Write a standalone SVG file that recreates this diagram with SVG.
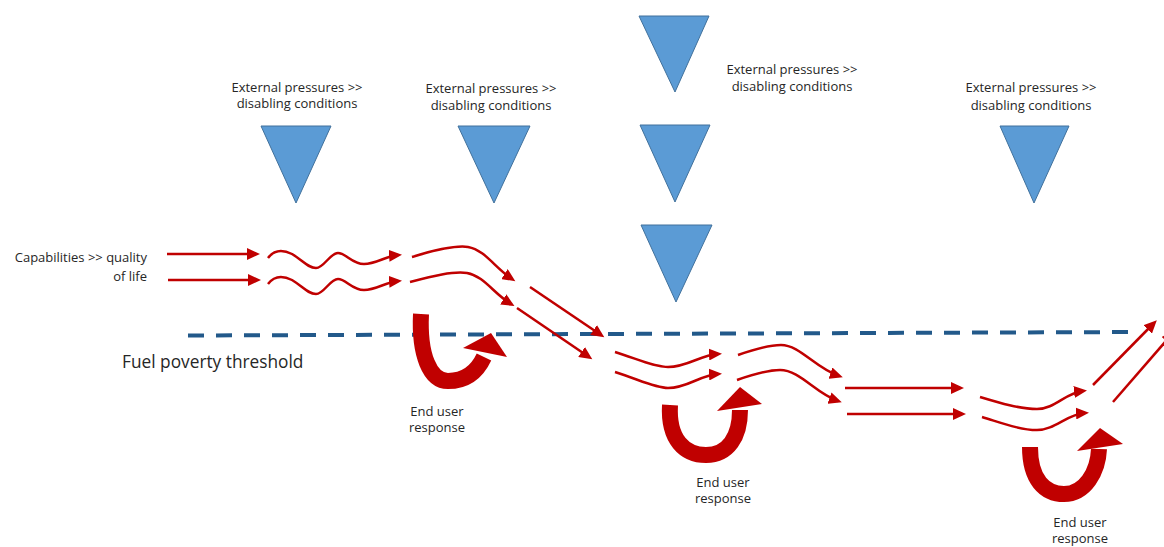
<svg xmlns="http://www.w3.org/2000/svg" width="1164" height="547" viewBox="0 0 1164 547">
<style>
.lbl{font-family:"Open Sans","Liberation Sans",sans-serif;fill:#262626;text-anchor:middle;font-size:13px}
.tri{fill:#5B9BD5;stroke:#41719C;stroke-width:1}
.flow{fill:none;stroke:#C00000;stroke-width:2.5;marker-end:url(#ah)}
.uturn{fill:none;stroke:#C00000;stroke-width:16}
.uhead{fill:#C00000}
</style>
<defs>
<marker id="ah" markerUnits="userSpaceOnUse" markerWidth="14" markerHeight="12" refX="9" refY="6" orient="auto">
<path d="M0,0 L13,6 L0,12 z" fill="#C00000"/>
</marker>
</defs>
<rect width="1164" height="547" fill="#ffffff"/>

<g id="pressure1">
<polygon class="tri" points="261,126 331,126 296,203"/>
<text class="lbl" x="297" y="92">External pressures &gt;&gt;</text>
<text class="lbl" x="297" y="108">disabling conditions</text>
</g>
<g id="pressure2">
<polygon class="tri" points="458,126 530,126 494,203"/>
<text class="lbl" x="491" y="93">External pressures &gt;&gt;</text>
<text class="lbl" x="491" y="110">disabling conditions</text>
</g>
<g id="pressure3">
<polygon class="tri" points="639,16 709,16 675,92"/>
<polygon class="tri" points="640,125 710,125 675,202"/>
<polygon class="tri" points="641,225 712,225 676,302"/>
<text class="lbl" x="792" y="74">External pressures &gt;&gt;</text>
<text class="lbl" x="792" y="91">disabling conditions</text>
</g>
<g id="pressure4">
<polygon class="tri" points="1000,126 1069,126 1034,203"/>
<text class="lbl" x="1031" y="92">External pressures &gt;&gt;</text>
<text class="lbl" x="1031" y="110">disabling conditions</text>
</g>

<g id="capabilities">
<text class="lbl" style="text-anchor:end" x="147" y="262">Capabilities &gt;&gt; quality</text>
<text class="lbl" style="text-anchor:end" x="147" y="281">of life</text>
</g>

<g id="threshold">
<path d="M188,335.5 L1140,332" fill="none" stroke="#22598A" stroke-width="4" stroke-dasharray="16 12"/>
<text x="122" y="368" font-family="Open Sans, Liberation Sans, sans-serif" font-size="17.3" fill="#262626">Fuel poverty threshold</text>
</g>

<g id="response1">
<path class="uturn" d="M421,314 C419,355 430,381 448,381 C466,381 477,372 484,357"/>
<polygon class="uhead" points="463,348 491,333 507,357"/>
<text class="lbl" x="437" y="416">End user</text>
<text class="lbl" x="437" y="432">response</text>
</g>
<g id="response2">
<path class="uturn" d="M670,405 C668,440 685,455 706,455 C728,455 740,437 740,410"/>
<polygon class="uhead" points="717,411 740,387 762,404"/>
<text class="lbl" x="723" y="487">End user</text>
<text class="lbl" x="723" y="503">response</text>
</g>
<g id="response3">
<path class="uturn" d="M1030,447 C1030,480 1045,494 1064,494 C1085,494 1098,472 1099,449"/>
<polygon class="uhead" points="1077,451 1100,428 1123,444"/>
<text class="lbl" x="1080" y="527">End user</text>
<text class="lbl" x="1080" y="543">response</text>
</g>

<g id="connectors">
<path class="flow" d="M167,254 L256,254"/>
<path class="flow" d="M168,280 L257,280"/>
<path class="flow" d="M268,258 C274,250 282,249 292,254 C302,260 308,268 316,268 C324,268 330,253 338,253 C346,253 352,264 364,264 C376,264 386,256 398,255"/>
<path class="flow" d="M268,284 C274,276 282,275 292,280 C302,286 308,294 316,294 C324,294 330,279 338,279 C346,279 352,290 364,290 C376,290 386,282 398,281"/>
<path class="flow" d="M412,257 C435,250 455,245 468,247 C485,250 495,268 512,279"/>
<path class="flow" d="M410,282 C433,276 453,271 467,273 C484,276 494,294 511,304"/>
<path class="flow" d="M530,287 L601,335"/>
<path class="flow" d="M517,308 L589,357"/>
<path class="flow" d="M615,352 C640,360 655,367 668,367 C688,367 700,355 718,354"/>
<path class="flow" d="M615,372 C640,380 655,388 668,388 C688,388 700,375 718,374"/>
<path class="flow" d="M738,355 C755,349 768,345 781,345 C800,345 815,368 839,376"/>
<path class="flow" d="M737,380 C754,374 767,370 780,370 C800,370 815,393 838,401"/>
<path class="flow" d="M845,388 L960,388"/>
<path class="flow" d="M847,414 L962,414"/>
<path class="flow" d="M980,397 C1000,403 1020,409 1037,409 C1055,409 1065,393 1083,391"/>
<path class="flow" d="M982,417 C1002,423 1020,430 1037,430 C1055,430 1067,414 1085,413"/>
<path class="flow" d="M1093,385 L1154,323"/>
<path class="flow" d="M1113,402 L1172,334"/>
</g>
</svg>
